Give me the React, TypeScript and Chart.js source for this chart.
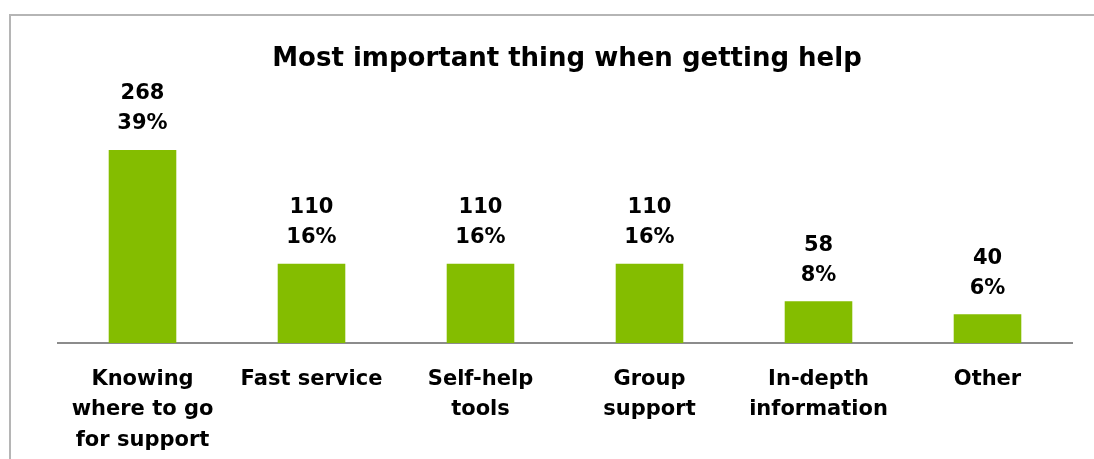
import React, { useEffect, useRef } from "react";
import { Chart, registerables } from "chart.js";

Chart.register(...registerables);

const TITLE = "Most important thing when getting help";
const categories: string[][] = [
  ["Knowing", "where to go", "for support"],
  ["Fast service"],
  ["Self-help", "tools"],
  ["Group", "support"],
  ["In-depth", "information"],
  ["Other"],
];
const counts: number[] = [268, 110, 110, 110, 58, 40];
const percents: string[] = ["39%", "16%", "16%", "16%", "8%", "6%"];

const FONT = "'DejaVu Sans', sans-serif";

const framePlugin = {
  id: "frame",
  beforeDraw(chart: any) {
    const ctx = chart.ctx;
    ctx.save();
    ctx.fillStyle = "#ffffff";
    ctx.fillRect(0, 0, chart.width, chart.height);
    ctx.strokeStyle = "#b5b5b5";
    ctx.lineWidth = 2;
    ctx.beginPath();
    ctx.moveTo(10, chart.height + 5);
    ctx.lineTo(10, 15);
    ctx.lineTo(chart.width + 5, 15);
    ctx.stroke();
    ctx.fillStyle = "#000";
    ctx.font = `bold 26px ${FONT}`;
    ctx.textAlign = "center";
    ctx.textBaseline = "middle";
    ctx.fillText(TITLE, 567, 59);
    ctx.restore();
  },
};

const labelPlugin = {
  id: "barLabels",
  afterDatasetsDraw(chart: any) {
    const ctx = chart.ctx;
    const meta = chart.getDatasetMeta(0);
    ctx.save();
    ctx.fillStyle = "#000";
    ctx.font = `bold 21px ${FONT}`;
    ctx.textAlign = "center";
    ctx.textBaseline = "middle";
    meta.data.forEach((bar: any, i: number) => {
      ctx.fillText(String(counts[i]), bar.x, bar.y - 56);
      ctx.fillText(percents[i], bar.x, bar.y - 26);
    });
    ctx.restore();
  },
};

export default function App() {
  const ref = useRef<HTMLCanvasElement>(null);
  useEffect(() => {
    if (!ref.current) return;
    const chart = new Chart(ref.current, {
      type: "bar",
      data: {
        labels: categories as any,
        datasets: [
          {
            data: counts,
            backgroundColor: "#84bd00",
            borderWidth: 0,
            categoryPercentage: 1,
            barPercentage: 0.4,
          },
        ],
      },
      options: {
        animation: false,
        responsive: false,
        maintainAspectRatio: false,
        layout: { padding: { left: 58, right: 22, top: 91, bottom: 0 } },
        plugins: {
          legend: { display: false },
          title: { display: false },
          tooltip: { enabled: false },
        },
        scales: {
          x: {
            grid: { display: false, drawTicks: false },
            border: { display: true, color: "#8c8c8c", width: 2 },
            ticks: {
              color: "#000",
              padding: 22,
              maxRotation: 0,
              autoSkip: false,
              font: { family: FONT, size: 21, weight: "bold", lineHeight: 1.43 },
            },
            afterFit(scale: any) {
              scale.height = 116;
            },
          },
          y: {
            display: false,
            min: 0,
            max: 350,
          },
        },
      },
      plugins: [framePlugin, labelPlugin],
    });
    return () => chart.destroy();
  }, []);
  return (
    <div style={{ position: "fixed", left: 0, top: 0, width: 1094, height: 459 }}>
      <canvas ref={ref} width={1094} height={459} style={{ display: "block" }} />
    </div>
  );
}
